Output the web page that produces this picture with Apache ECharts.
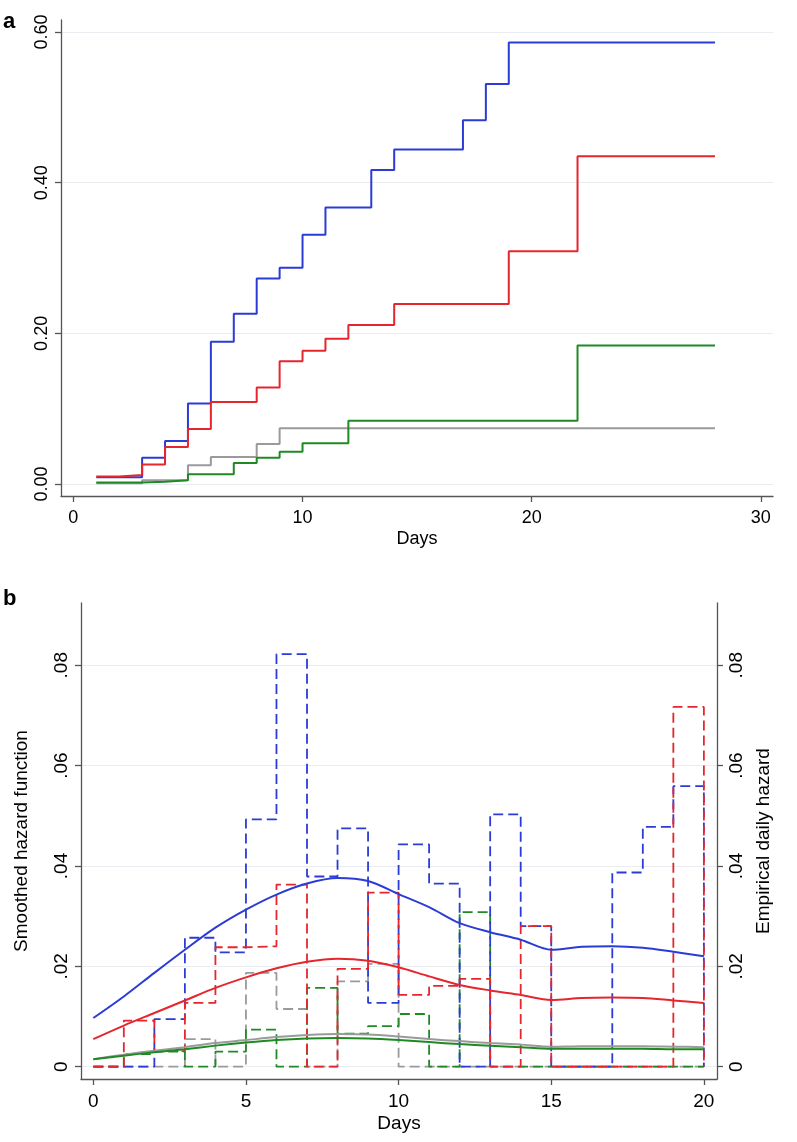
<!DOCTYPE html>
<html><head><meta charset="utf-8">
<script src="https://cdn.jsdelivr.net/npm/echarts@6/dist/echarts.min.js"></script>
<style>html,body{margin:0;padding:0;background:#fff}#c{width:797px;height:1142px}</style>
</head><body><div id="c"></div>
<script>
// ---------- Panel a: cumulative incidence (step functions, days 1..28) ----------
const daysA = [1,2,3,4,5,6,7,8,9,10,11,12,13,14,15,16,17,18,19,20,21,22,23,24,25,26,27,28];
const cumBlue  = [0.009,0.009,0.035,0.057,0.107,0.189,0.226,0.273,0.287,0.331,0.367,0.367,0.417,0.444,0.444,0.444,0.483,0.531,0.586,0.586,0.586,0.586,0.586,0.586,0.586,0.586,0.586,0.586];
const cumRed   = [0.010,0.012,0.026,0.049,0.073,0.109,0.109,0.128,0.163,0.177,0.193,0.211,0.211,0.239,0.239,0.239,0.239,0.239,0.309,0.309,0.309,0.435,0.435,0.435,0.435,0.435,0.435,0.435];
const cumGreen = [0.002,0.002,0.003,0.005,0.013,0.013,0.028,0.035,0.043,0.054,0.054,0.084,0.084,0.084,0.084,0.084,0.084,0.084,0.084,0.084,0.084,0.184,0.184,0.184,0.184,0.184,0.184,0.184];
const cumGray  = [0.001,0.001,0.005,0.005,0.025,0.036,0.036,0.053,0.074,0.074,0.074,0.074,0.074,0.074,0.074,0.074,0.074,0.074,0.074,0.074,0.074,0.074,0.074,0.074,0.074,0.074,0.074,0.074];
const ticksAX = [0,10,20,30];
const ticksAY = [0,0.2,0.4,0.6];

// ---------- Panel b: hazards (days 0..20) ----------
const daysB = [0,1,2,3,4,5,6,7,8,9,10,11,12,13,14,15,16,17,18,19,20];
// smoothed hazard function
const smBlue  = [0.0097,0.0140,0.0187,0.0233,0.0277,0.0313,0.0343,0.0365,0.0376,0.0370,0.0344,0.0318,0.0286,0.0268,0.0253,0.0233,0.0239,0.0240,0.0237,0.0229,0.0220];
const smRed   = [0.0055,0.0082,0.0107,0.0132,0.0157,0.0178,0.0196,0.0209,0.0215,0.0211,0.0198,0.0180,0.0163,0.0152,0.0143,0.0133,0.0137,0.0138,0.0137,0.0132,0.0127];
const smGray  = [0.0015,0.0024,0.0032,0.0039,0.0047,0.0053,0.0059,0.0063,0.0065,0.0064,0.0060,0.0055,0.0051,0.0047,0.0044,0.0040,0.0041,0.0041,0.0041,0.0040,0.0039];
const smGreen = [0.0015,0.0022,0.0029,0.0035,0.0042,0.0048,0.0053,0.0056,0.0057,0.0056,0.0053,0.0049,0.0045,0.0042,0.0039,0.0036,0.0036,0.0036,0.0036,0.0035,0.0035];
// empirical daily hazard (value of day t holds on [t, t+1]; last entry closes at day 20)
const empBlue  = [0,0,0.0095,0.0257,0.0228,0.0493,0.0822,0.0379,0.0475,0.0127,0.0443,0.0365,0,0.0503,0.0280,0,0,0.0387,0.0478,0.0559,0];
const empRed   = [0,0.0092,0.0031,0.0127,0.0238,0.0240,0.0363,0,0.0195,0.0347,0.0143,0.0161,0.0175,0,0.0280,0,0,0,0,0.0717,0];
const empGray  = [0,0,0,0.0055,0,0.0187,0.0115,0,0.0170,0.0205,0,0,0,0,0,0,0,0,0,0,0];
const empGreen = [0,0.0025,0.0030,0,0.0030,0.0074,0,0.0157,0.0066,0.0081,0.0105,0,0.0308,0,0,0,0,0,0,0,0];
const ticksBX = [0,5,10,15,20];
const ticksBY = [0,0.02,0.04,0.06,0.08];

const FONT = '"Liberation Sans", Arial, Helvetica, sans-serif';
const COL = {blue:'#2b3cd6', red:'#e5262e', green:'#1f8a24', gray:'#9a9a9a'};
const pairs = (xs, ys) => xs.map((x, i) => [x, ys[i]]);
const axLine = {color:'#555555', width:1.3};
const split = {show:true, lineStyle:{color:'#e9edf1', width:1.2}};
const fmtA = v => v.toFixed(2);
const fmtB = v => v === 0 ? '0' : v.toFixed(2).replace(/^0/, '');

function xAx(grid, min, max, ticks, fs, gap) {
  return {gridIndex:grid, type:'value', min, max, name:'Days', nameLocation:'middle', nameGap:gap,
    nameTextStyle:{fontSize:fs, color:'#000', fontFamily:FONT},
    axisLine:{show:true, onZero:false, lineStyle:axLine},
    axisTick:{show:true, length:6, customValues:ticks, lineStyle:axLine},
    axisLabel:{customValues:ticks, fontSize:fs, color:'#000', margin:13, fontFamily:FONT},
    splitLine:{show:false}};
}
function yAx(grid, pos, min, max, ticks, fmt, fs, name, gap, withSplit) {
  return {gridIndex:grid, type:'value', position:pos, min, max,
    name, nameLocation:'middle', nameGap:gap, nameRotate:90,
    nameTextStyle:{fontSize:fs, color:'#000', fontFamily:FONT},
    axisLine:{show:true, onZero:false, lineStyle:axLine},
    axisTick:{show:true, length:6, customValues:ticks, lineStyle:axLine},
    axisLabel:{customValues:ticks, rotate:90, fontSize:fs, color:'#000', margin:10, formatter:fmt, fontFamily:FONT},
    splitLine: withSplit ? split : {show:false}};
}
function stepA(data, color) {
  return {type:'line', xAxisIndex:0, yAxisIndex:0, step:'end', symbol:'none', data:pairs(daysA, data),
    lineStyle:{color, width:2}, itemStyle:{color}, silent:true};
}
function dashB(data, color) {
  return {type:'line', xAxisIndex:1, yAxisIndex:2, step:'end', symbol:'none', data:pairs(daysB, data),
    lineStyle:{color, width:1.8, type:[10,5]}, itemStyle:{color}, silent:true};
}
function smoothB(data, color) {
  return {type:'line', xAxisIndex:1, yAxisIndex:1, smooth:0.3, symbol:'none', data:pairs(daysB, data),
    lineStyle:{color, width:2}, itemStyle:{color}, silent:true};
}

const option = {
  animation:false,
  backgroundColor:'#ffffff',
  textStyle:{fontFamily:FONT},
  grid:[
    {left:61, top:20, width:712, height:476},
    {left:81, top:603, width:636, height:476}
  ],
  xAxis:[
    xAx(0, -0.54, 30.53, ticksAX, 18, 34),
    xAx(1, -0.403, 20.43, ticksBX, 19, 35)
  ],
  yAxis:[
    yAx(0, 'left', -0.0159, 0.616, ticksAY, fmtA, 18, '', 0, true),
    yAx(1, 'left', -0.00245, 0.0924, ticksBY, fmtB, 19, 'Smoothed hazard function', 50, true),
    yAx(1, 'right', -0.00245, 0.0924, ticksBY, fmtB, 19, 'Empirical daily hazard', 36, false)
  ],
  series:[
    stepA(cumGray, COL.gray),
    stepA(cumGreen, COL.green),
    stepA(cumBlue, COL.blue),
    stepA(cumRed, COL.red),
    dashB(empGray, COL.gray),
    dashB(empGreen, COL.green),
    dashB(empBlue, COL.blue),
    dashB(empRed, COL.red),
    smoothB(smGray, COL.gray),
    smoothB(smGreen, COL.green),
    smoothB(smRed, COL.red),
    smoothB(smBlue, COL.blue)
  ],
  graphic:[
    {type:'text', left:3, top:11, style:{text:'a', font:'bold 22px "Liberation Sans", Arial, sans-serif', fill:'#000'}},
    {type:'text', left:3, top:588, style:{text:'b', font:'bold 22px "Liberation Sans", Arial, sans-serif', fill:'#000'}}
  ]
};
const chart = echarts.init(document.getElementById('c'), null, {renderer:'canvas'});
chart.setOption(option);
</script></body></html>
